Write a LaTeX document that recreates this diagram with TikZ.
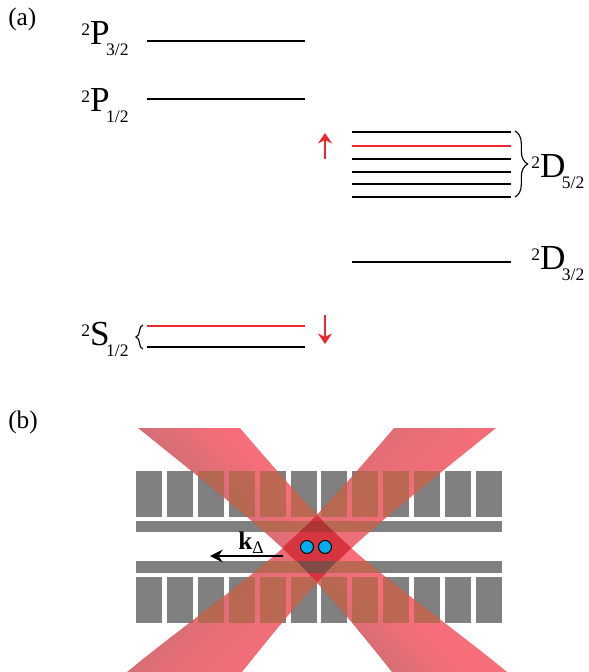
\documentclass[tikz,border=0pt]{standalone}
\usepackage{fontspec}
\setmainfont{Liberation Serif}
\usetikzlibrary{arrows.meta,decorations.pathreplacing}
\definecolor{barGray}{RGB}{128,128,128}
\definecolor{lineRed}{RGB}{237,40,50}
\definecolor{ionBlue}{RGB}{0,174,239}
\definecolor{beamBright}{RGB}{237,0,20}
\definecolor{beamDark}{RGB}{135,0,5}
\definecolor{beamMid}{RGB}{205,0,15}
\definecolor{barGlow}{RGB}{190,125,90}
\definecolor{coreRed}{RGB}{214,52,62}
\definecolor{coreUpper}{RGB}{172,54,52}
\definecolor{coreLower}{RGB}{128,76,70}
\pgfdeclarehorizontalshading{beamone}{100bp}{color(0bp)=(beamDark); color(36bp)=(beamDark); color(52bp)=(beamBright); color(100bp)=(beamBright)}
\pgfdeclarehorizontalshading{beamtwo}{100bp}{color(0bp)=(beamDark); color(36bp)=(beamDark); color(46bp)=(beamMid); color(58bp)=(beamBright); color(100bp)=(beamBright)}
\newcommand{\termlabel}[2]{\raisebox{6.4pt}{\fontsize{12.5}{14}\selectfont 2}#1\kern-2.5pt\raisebox{-8pt}{\fontsize{12.5}{14}\selectfont #2}}
\newcommand{\beamOnePath}{(138,428) .. controls (200,478) and (260,525) .. (300,565)
      .. controls (330,595) and (360,632) .. (392,672)
      -- (507,672) .. controls (450,625) and (375,573) .. (333,531)
      .. controls (300,498) and (270,463) .. (240,428) -- cycle}
\newcommand{\beamTwoPath}{(496,428) .. controls (434,478) and (374,525) .. (334,565)
      .. controls (304,595) and (274,632) .. (242,672)
      -- (127,672) .. controls (184,625) and (259,573) .. (301,531)
      .. controls (334,498) and (364,463) .. (394,428) -- cycle}
\newcommand{\coreDiamond}{(283,547) -- (317,516) -- (350,547) -- (317,582) -- cycle}
\newcommand{\trapBars}[1]{
    \foreach \i in {0,...,11} {
      \fill[#1] ({136+30.9*\i},471) rectangle ++(26,46);
      \fill[#1] ({136+30.9*\i},577) rectangle ++(26,46);
    }
    \fill[#1] (136,521) rectangle (502,532);
    \fill[#1] (136,561) rectangle (502,573);
}
\begin{document}
\begin{tikzpicture}[
    x=0.025cm, y=-0.025cm,
    statelevel/.style={line width=1pt, black},
    redlevel/.style={line width=1pt, lineRed},
    shiftarrow/.style={-{Stealth[length=7.5pt,width=10pt]}, line width=1pt, lineRed},
    term/.style={anchor=base west, inner sep=0pt, font=\fontsize{25}{28}\selectfont},
    panel/.style={anchor=base west, inner sep=0pt, font=\fontsize{18}{20}\selectfont},
    bracer/.style={decorate, decoration={brace, amplitude=#1}, line width=0.8pt},
    electrode/.style={fill=barGray},
    electrodelit/.style={fill=barGlow, opacity=0.7},
    ion/.style={circle, draw=black, fill=ionBlue, line width=0.7pt, minimum size=9.2pt, inner sep=0pt}
  ]
    \useasboundingbox (0,0) rectangle (588,672);

    % Panel labels
    \node[panel] (panelA) at (8,25) {(a)};
    \node[panel] (panelB) at (8,428) {(b)};

    % Levels
    \draw[statelevel] (147,41) -- (305,41);
    \draw[statelevel] (147,99) -- (305,99);
    \draw[redlevel] (147,326) -- (305,326);
    \draw[statelevel] (147,347) -- (305,347);
    \draw[statelevel] (352,132) -- (511,132);
    \draw[redlevel] (352,146) -- (511,146);
    \draw[statelevel] (352,159) -- (511,159);
    \draw[statelevel] (352,172) -- (511,172);
    \draw[statelevel] (352,184) -- (511,184);
    \draw[statelevel] (352,197) -- (511,197);
    \draw[statelevel] (352,262) -- (511,262);

    % Terms
    \node[term] (pThree) at (81,44) {\termlabel{P}{3/2}};
    \node[term] (pOne) at (81,111) {\termlabel{P}{1/2}};
    \node[term] (sOne) at (81,345) {\termlabel{S}{1/2}};
    \node[term] (dFive) at (531,177) {\termlabel{D}{5/2}};
    \node[term] (dThree) at (531,269) {\termlabel{D}{3/2}};

    % Braces
    \draw[bracer=9pt] (515,131) -- (515,197);
    \draw[bracer=5pt] (143,349) -- (143,325);

    % Shifts
    \coordinate (upFrom) at (325,159);
    \coordinate (upTo) at (325,133);
    \coordinate (downFrom) at (325,315);
    \coordinate (downTo) at (325,344);
    \draw[shiftarrow] (upFrom) -- (upTo);
    \draw[shiftarrow] (downFrom) -- (downTo);

    % Trap
    \trapBars{electrode}

    % Beams
    \shade[shading=beamone, shading angle=45, opacity=0.57] \beamOnePath;
    \shade[shading=beamtwo, shading angle=-45, opacity=0.57] \beamTwoPath;
    \begin{scope}
      \clip \beamOnePath;
      \trapBars{electrodelit}
    \end{scope}
    \begin{scope}
      \clip \beamTwoPath;
      \trapBars{electrodelit}
    \end{scope}

    % Crossing
    \fill[coreRed] \coreDiamond;
    \begin{scope}
      \clip \coreDiamond;
      \fill[coreUpper] (136,521) rectangle (502,532);
      \fill[coreLower] (136,561) rectangle (502,573);
    \end{scope}

    % Ions
    \node[ion] (ionLeft) at (307,547) {};
    \node[ion] (ionRight) at (325,547) {};

    % Wave vector
    \coordinate (kFrom) at (283,556);
    \coordinate (kTo) at (210,556);
    \draw[-{Stealth[length=9pt,width=9pt]}, line width=1pt] (kFrom) -- (kTo);
    \node[panel] (kLabel) at (238,549) {\textbf{k}\raisebox{-3pt}{\fontsize{12.5}{14}\selectfont Δ}};
  \end{tikzpicture}
\end{document}
